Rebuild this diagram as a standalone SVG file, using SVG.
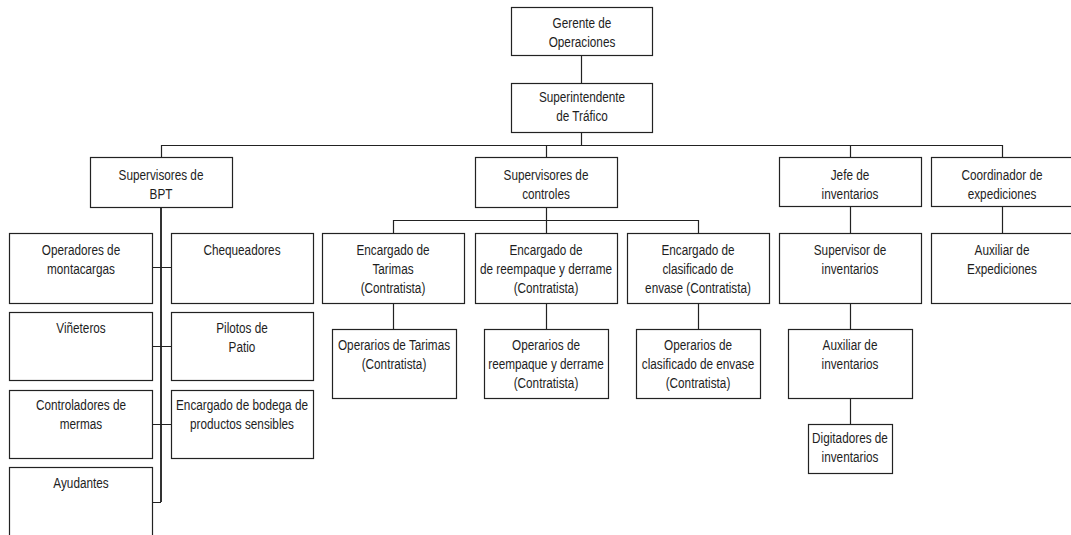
<svg xmlns="http://www.w3.org/2000/svg" width="1071" height="535" viewBox="0 0 1071 535">
  <style>
    .box { fill: #ffffff; stroke: #222222; stroke-width: 1.2; }
    .link { fill: none; stroke: #222222; stroke-width: 1.2; }
    .trunk { fill: none; stroke: #333333; stroke-width: 2; }
    text { font-family: "Liberation Sans", Arial, sans-serif; font-size: 14.7px; fill: #1e1e1e; text-anchor: middle; }
  </style>
  <rect x="0" y="0" width="1071" height="535" fill="#ffffff"/>

  <!-- reporting lines -->
  <g id="connectors">
    <path class="link" d="M581.5 55 V83 M581.5 132 V145.5"/>
    <path class="link" d="M161.5 145.5 H1002.5 M161.5 145 V157 M546.5 145 V157 M850.5 145 V157 M1002.5 145 V157"/>
    <path class="trunk" d="M161 207 V502"/>
    <path class="link" d="M152 267.5 H171 M152 346.5 H171 M152 424.5 H171 M152 502.5 H161"/>
    <path class="link" d="M546.5 207 V233 M393.5 220.5 H698.5 M393.5 220 V233 M698.5 220 V233"/>
    <path class="link" d="M393.5 303 V329 M546.5 303 V329 M698.5 303 V329"/>
    <path class="link" d="M850.5 206 V233 M850.5 303 V329 M850.5 398 V424 M1002.5 206 V233"/>
  </g>

  <g id="gerente">
    <rect class="box" x="511.5" y="7.5" width="141" height="48"/>
    <text transform="translate(582 0) scale(0.8 1)"><tspan x="0" y="28">Gerente de</tspan><tspan x="0" y="47">Operaciones</tspan></text>
  </g>
  <g id="superintendente">
    <rect class="box" x="511.5" y="83.5" width="141" height="49"/>
    <text transform="translate(582 0) scale(0.8 1)"><tspan x="0" y="102">Superintendente</tspan><tspan x="0" y="121">de Tráfico</tspan></text>
  </g>

  <g id="supervisores-bpt">
    <rect class="box" x="90.5" y="157.5" width="142" height="50"/>
    <text transform="translate(161 0) scale(0.8 1)"><tspan x="0" y="180">Supervisores de</tspan><tspan x="0" y="199">BPT</tspan></text>
  </g>
  <g id="supervisores-controles">
    <rect class="box" x="475.5" y="157.5" width="142" height="50"/>
    <text transform="translate(546 0) scale(0.8 1)"><tspan x="0" y="180">Supervisores de</tspan><tspan x="0" y="199">controles</tspan></text>
  </g>
  <g id="jefe-inventarios">
    <rect class="box" x="779.5" y="157.5" width="142" height="49"/>
    <text transform="translate(850 0) scale(0.8 1)"><tspan x="0" y="180">Jefe de</tspan><tspan x="0" y="199">inventarios</tspan></text>
  </g>
  <g id="coordinador-expediciones">
    <rect class="box" x="931.5" y="157.5" width="145" height="49"/>
    <text transform="translate(1002 0) scale(0.8 1)"><tspan x="0" y="180">Coordinador de</tspan><tspan x="0" y="199">expediciones</tspan></text>
  </g>

  <g id="operadores-montacargas">
    <rect class="box" x="9.5" y="233.5" width="143" height="70"/>
    <text transform="translate(81 0) scale(0.8 1)"><tspan x="0" y="255">Operadores de</tspan><tspan x="0" y="274">montacargas</tspan></text>
  </g>
  <g id="chequeadores">
    <rect class="box" x="171.5" y="233.5" width="142" height="70"/>
    <text transform="translate(242 0) scale(0.8 1)"><tspan x="0" y="255">Chequeadores</tspan></text>
  </g>
  <g id="vineteros">
    <rect class="box" x="9.5" y="312.5" width="143" height="68"/>
    <text transform="translate(81 0) scale(0.8 1)"><tspan x="0" y="333">Viñeteros</tspan></text>
  </g>
  <g id="pilotos-patio">
    <rect class="box" x="171.5" y="312.5" width="142" height="68"/>
    <text transform="translate(242 0) scale(0.8 1)"><tspan x="0" y="333">Pilotos de</tspan><tspan x="0" y="352">Patio</tspan></text>
  </g>
  <g id="controladores-mermas">
    <rect class="box" x="9.5" y="390.5" width="143" height="68"/>
    <text transform="translate(81 0) scale(0.8 1)"><tspan x="0" y="410">Controladores de</tspan><tspan x="0" y="429">mermas</tspan></text>
  </g>
  <g id="encargado-bodega">
    <rect class="box" x="171.5" y="390.5" width="142" height="68"/>
    <text transform="translate(242 0) scale(0.8 1)"><tspan x="0" y="410">Encargado de bodega de</tspan><tspan x="0" y="429">productos sensibles</tspan></text>
  </g>
  <g id="ayudantes">
    <rect class="box" x="9.5" y="467.5" width="143" height="80"/>
    <text transform="translate(81 0) scale(0.8 1)"><tspan x="0" y="488">Ayudantes</tspan></text>
  </g>

  <g id="encargado-tarimas">
    <rect class="box" x="322.5" y="233.5" width="142" height="70"/>
    <text transform="translate(393 0) scale(0.8 1)"><tspan x="0" y="255">Encargado de</tspan><tspan x="0" y="274">Tarimas</tspan><tspan x="0" y="293">(Contratista)</tspan></text>
  </g>
  <g id="encargado-reempaque">
    <rect class="box" x="475.5" y="233.5" width="142" height="70"/>
    <text transform="translate(546 0) scale(0.8 1)"><tspan x="0" y="255">Encargado de</tspan><tspan x="0" y="274">de reempaque y derrame</tspan><tspan x="0" y="293">(Contratista)</tspan></text>
  </g>
  <g id="encargado-clasificado">
    <rect class="box" x="627.5" y="233.5" width="142" height="70"/>
    <text transform="translate(698 0) scale(0.8 1)"><tspan x="0" y="255">Encargado de</tspan><tspan x="0" y="274">clasificado de</tspan><tspan x="0" y="293">envase (Contratista)</tspan></text>
  </g>
  <g id="supervisor-inventarios">
    <rect class="box" x="779.5" y="233.5" width="142" height="70"/>
    <text transform="translate(850 0) scale(0.8 1)"><tspan x="0" y="255">Supervisor de</tspan><tspan x="0" y="274">inventarios</tspan></text>
  </g>
  <g id="auxiliar-expediciones">
    <rect class="box" x="931.5" y="233.5" width="145" height="70"/>
    <text transform="translate(1002 0) scale(0.8 1)"><tspan x="0" y="255">Auxiliar de</tspan><tspan x="0" y="274">Expediciones</tspan></text>
  </g>

  <g id="operarios-tarimas">
    <rect class="box" x="332.5" y="329.5" width="124" height="69"/>
    <text transform="translate(394 0) scale(0.8 1)"><tspan x="0" y="350">Operarios de Tarimas</tspan><tspan x="0" y="369">(Contratista)</tspan></text>
  </g>
  <g id="operarios-reempaque">
    <rect class="box" x="484.5" y="329.5" width="124" height="69"/>
    <text transform="translate(546 0) scale(0.8 1)"><tspan x="0" y="350">Operarios de</tspan><tspan x="0" y="369">reempaque y derrame</tspan><tspan x="0" y="388">(Contratista)</tspan></text>
  </g>
  <g id="operarios-clasificado">
    <rect class="box" x="636.5" y="329.5" width="124" height="69"/>
    <text transform="translate(698 0) scale(0.8 1)"><tspan x="0" y="350">Operarios de</tspan><tspan x="0" y="369">clasificado de envase</tspan><tspan x="0" y="388">(Contratista)</tspan></text>
  </g>
  <g id="auxiliar-inventarios">
    <rect class="box" x="788.5" y="329.5" width="124" height="69"/>
    <text transform="translate(850 0) scale(0.8 1)"><tspan x="0" y="350">Auxiliar de</tspan><tspan x="0" y="369">inventarios</tspan></text>
  </g>
  <g id="digitadores-inventarios">
    <rect class="box" x="808.5" y="424.5" width="84" height="49"/>
    <text transform="translate(850 0) scale(0.8 1)"><tspan x="0" y="443">Digitadores de</tspan><tspan x="0" y="462">inventarios</tspan></text>
  </g>
</svg>
